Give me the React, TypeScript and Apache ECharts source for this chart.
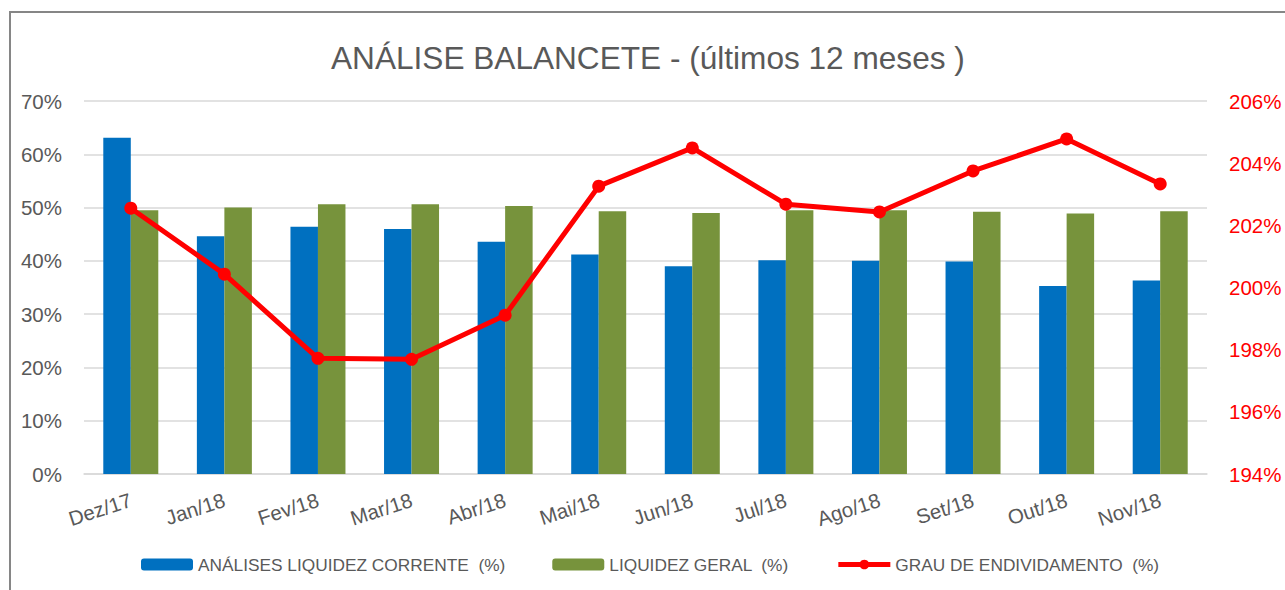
import React, { useEffect, useRef } from "react";
import * as echarts from "echarts";

const categories = ["Dez/17", "Jan/18", "Fev/18", "Mar/18", "Abr/18", "Mai/18", "Jun/18", "Jul/18", "Ago/18", "Set/18", "Out/18", "Nov/18"];
const liquidezCorrente = [63.1, 44.6, 46.4, 46.0, 43.6, 41.2, 39.0, 40.1, 40.0, 39.9, 35.3, 36.3];
const liquidezGeral = [49.5, 50.0, 50.6, 50.6, 50.3, 49.3, 49.0, 49.5, 49.5, 49.2, 48.9, 49.3];
const grauEndividamento = [202.55, 200.43, 197.72, 197.69, 199.11, 203.26, 204.49, 202.68, 202.43, 203.75, 204.78, 203.33];

const seriesNames = ["ANÁLISES LIQUIDEZ CORRENTE  (%)", "LIQUIDEZ GERAL  (%)", "GRAU DE ENDIVIDAMENTO  (%)"];
const titleText = "ANÁLISE BALANCETE - (últimos 12 meses )";

const FONT = "'Liberation Sans', Arial, sans-serif";
const GREY = "#595959";

export default function App() {
  const ref = useRef<HTMLDivElement>(null);
  useEffect(() => {
    document.body.style.margin = "0";
    const chart = echarts.init(ref.current!, null, { renderer: "svg" });
    chart.setOption({
      animation: false,
      backgroundColor: "#ffffff",
      textStyle: { fontFamily: FONT },
      title: {
        text: titleText,
        left: 326,
        top: 37,
        textStyle: { fontFamily: FONT, fontSize: 31.6, fontWeight: "normal", color: GREY },
      },
      graphic: [
        {
          type: "rect",
          shape: { x: 10, y: 12, width: 1300, height: 620 },
          style: { fill: "none", stroke: "#868686", lineWidth: 2 },
          silent: true,
        },
      ],
      legend: {
        left: 141,
        top: 556,
        padding: 0,
        itemWidth: 52,
        itemHeight: 12,
        itemGap: 47,
        textStyle: { fontFamily: FONT, fontSize: 17.3, color: GREY },
        data: [
          { name: seriesNames[0] },
          { name: seriesNames[1] },
          { name: seriesNames[2], lineStyle: { width: 5, color: "#ff0000" } },
        ],
      },
      grid: { left: 84, right: 78, top: 101, bottom: 116, containLabel: false },
      xAxis: {
        type: "category",
        data: categories,
        axisLine: { show: true, lineStyle: { color: "#d9d9d9", width: 1.5 } },
        axisTick: { show: false },
        axisLabel: { rotate: 18, margin: 25, fontSize: 20.5, color: GREY, fontFamily: FONT, interval: 0 },
      },
      yAxis: [
        {
          type: "value",
          min: 0,
          max: 70,
          interval: 10,
          axisLabel: { formatter: "{value}%", fontSize: 20.5, color: GREY, margin: 22, fontFamily: FONT },
          axisLine: { show: false },
          axisTick: { show: false },
          splitLine: { show: true, lineStyle: { color: "#d9d9d9", width: 1.5 } },
        },
        {
          type: "value",
          min: 194,
          max: 206,
          interval: 2,
          position: "right",
          axisLabel: { formatter: "{value}%", fontSize: 20.5, color: "#ff0000", margin: 22, fontFamily: FONT },
          axisLine: { show: false },
          axisTick: { show: false },
          splitLine: { show: false },
        },
      ],
      series: [
        {
          name: seriesNames[0],
          type: "bar",
          data: liquidezCorrente,
          barWidth: 27.5,
          barGap: "0%",
          itemStyle: { color: "#0070c0" },
          yAxisIndex: 0,
        },
        {
          name: seriesNames[1],
          type: "bar",
          data: liquidezGeral,
          barWidth: 27.5,
          barGap: "0%",
          itemStyle: { color: "#77933c" },
          yAxisIndex: 0,
        },
        {
          name: seriesNames[2],
          type: "line",
          data: grauEndividamento,
          yAxisIndex: 1,
          symbol: "circle",
          symbolSize: 13,
          lineStyle: { color: "#ff0000", width: 5 },
          itemStyle: { color: "#ff0000" },
          z: 5,
        },
      ],
    });
    return () => chart.dispose();
  }, []);
  return <div ref={ref} style={{ width: 1285, height: 590 }} />;
}
